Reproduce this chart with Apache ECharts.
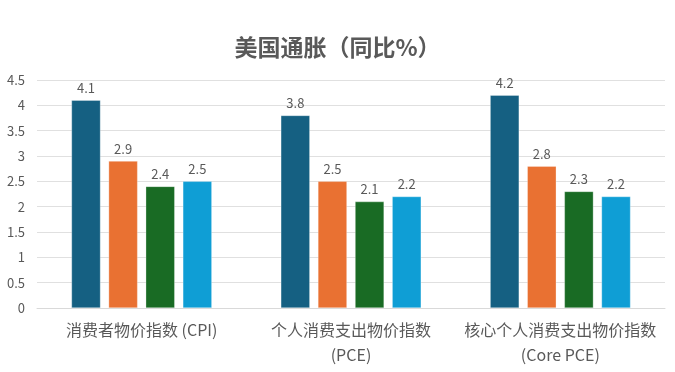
<!DOCTYPE html>
<html><head><meta charset="utf-8">
<script src="https://cdn.jsdelivr.net/npm/echarts@6/dist/echarts.min.js"></script>
<style>html,body{margin:0;padding:0;background:#fff}#c{width:675px;height:372px}</style>
</head><body><div id="c"></div>
<script>
const categories = ['消费者物价指数 (CPI)', '个人消费支出物价指数\n(PCE)', '核心个人消费支出物价指数\n(Core PCE)'];
const series1 = [4.1, 3.8, 4.2];
const series2 = [2.9, 2.5, 2.8];
const series3 = [2.4, 2.1, 2.3];
const series4 = [2.5, 2.2, 2.2];
const colors = ['#156082', '#E97132', '#196B24', '#0F9ED5'];
const font = '"Noto Sans CJK SC", "Noto Sans", sans-serif';
const chart = echarts.init(document.getElementById('c'));
const mk = (d, i) => ({
  type: 'bar', data: d, barWidth: 29, barGap: '28%',
  itemStyle: { color: colors[i], borderColor: 'rgba(255,255,255,0.6)', borderWidth: 0.5 },
  label: { show: true, position: 'top', distance: 6, color: '#595959', fontSize: 13, fontFamily: font }
});
chart.setOption({
  animation: false,
  title: { text: '美国通胀（同比%）', left: 'center', top: 31, textStyle: { color: '#595959', fontSize: 23, fontWeight: 'bold', fontFamily: font } },
  grid: { left: 37, right: 10, top: 80, bottom: 64 },
  xAxis: { type: 'category', data: categories,
    axisLine: { lineStyle: { color: '#d9d9d9' } }, axisTick: { show: false },
    axisLabel: { color: '#595959', fontSize: 16, fontFamily: font, interval: 0, margin: 9, lineHeight: 25 } },
  yAxis: { type: 'value', min: 0, max: 4.5, interval: 0.5,
    axisLine: { show: false }, axisTick: { show: false },
    splitLine: { lineStyle: { color: '#e0e0e0' } },
    axisLabel: { color: '#595959', fontSize: 13, fontFamily: font, margin: 12 } },
  series: [mk(series1, 0), mk(series2, 1), mk(series3, 2), mk(series4, 3)]
});
</script></body></html>
